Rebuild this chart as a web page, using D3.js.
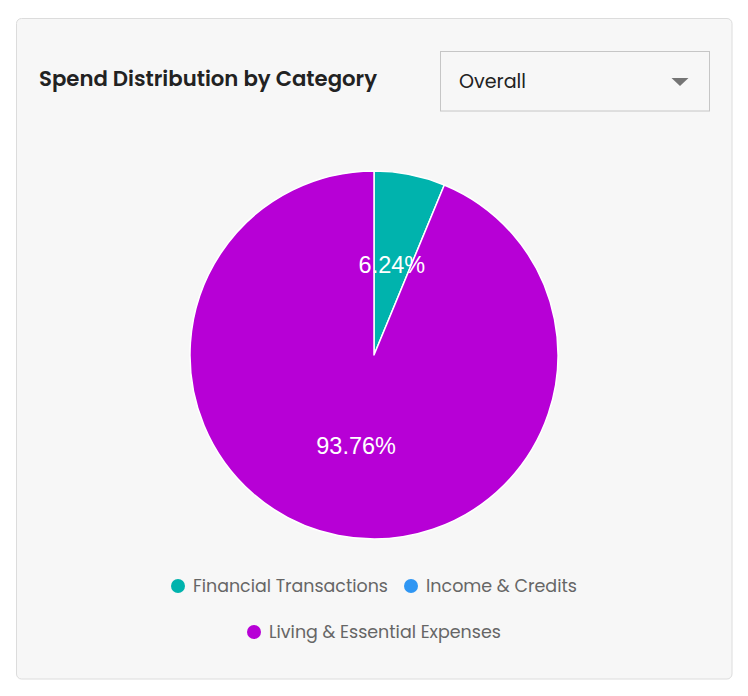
<!DOCTYPE html>
<html><head><meta charset="utf-8">
<script src="https://cdn.jsdelivr.net/npm/d3@7"></script>
<style>
html,body{margin:0;padding:0;background:#fff;}
svg{display:block;}
</style></head>
<body>
<svg id="c" width="748" height="696"></svg>
<script>
const categories = ["Financial Transactions", "Income & Credits", "Living & Essential Expenses"];
const values = [6.24, 0, 93.76];
const colors = ["#00b3ad", "#2f96f3", "#b700d6"];
const title = "Spend Distribution by Category";
const selectLabel = "Overall";

const svg = d3.select("#c");
const FONT = "Poppins, 'Open Sans', sans-serif";

// card
svg.append("rect").attr("x",16.5).attr("y",18.5).attr("width",715.5).attr("height",660.5)
  .attr("rx",5).attr("fill","#f7f7f7").attr("stroke","#dcdcdc").attr("stroke-width",1);

function fit(sel, w){
  const node = sel.node();
  const fs = parseFloat(sel.attr("font-size"));
  const cur = node.getComputedTextLength();
  sel.attr("font-size", (fs*w/cur).toFixed(2));
}

const t = svg.append("text").attr("x",39).attr("y",86).attr("font-family",FONT)
  .attr("font-weight",600).attr("font-size",19).attr("fill","#222").text(title);
fit(t, 338);

// dropdown
svg.append("rect").attr("x",440.5).attr("y",51.5).attr("width",269).attr("height",59.5)
  .attr("fill","#f7f7f7").attr("stroke","#c6c6c6");
const so = svg.append("text").attr("x",459).attr("y",88).attr("font-family",FONT)
  .attr("font-size",18).attr("fill","#222").text(selectLabel);
fit(so, 67);
svg.append("path").attr("d","M671.5,78L688.5,78L680,86Z").attr("fill","#757575");

// pie
const cx = 374, cy = 355, R = 184;
const pie = d3.pie().sort(null).value(d=>d.v);
const data = pie(categories.map((c,i)=>({c, v: values[i], col: colors[i]})));
const arc = d3.arc().innerRadius(0).outerRadius(R);
const labelArc = d3.arc().innerRadius(R/2).outerRadius(R/2);
const g = svg.append("g").attr("transform",`translate(${cx},${cy})`);
g.selectAll("path").data(data.filter(d=>d.data.v>0)).join("path")
  .attr("d",arc).attr("fill",d=>d.data.col).attr("stroke","#fff").attr("stroke-width",1.5)
  .attr("stroke-linejoin","round");
g.selectAll("text").data(data.filter(d=>d.data.v>0)).join("text")
  .attr("transform",d=>`translate(${labelArc.centroid(d)})`)
  .attr("text-anchor","middle").attr("dy","0.36em")
  .attr("font-family","'Liberation Sans', Arial, sans-serif").attr("font-size",23.5)
  .attr("fill","#fff").text(d=>d.data.v.toFixed(2)+"%");

// legend
const legendPos = [
  {cx:178, cy:586, tx:193, w:195},
  {cx:411, cy:586, tx:426, w:151},
  {cx:254, cy:632, tx:269, w:232}
];
categories.forEach((c,i)=>{
  const p = legendPos[i];
  svg.append("circle").attr("cx",p.cx).attr("cy",p.cy).attr("r",7).attr("fill",colors[i]);
  const lt = svg.append("text").attr("x",p.tx).attr("y",p.cy+6).attr("font-family",FONT)
    .attr("font-size",17).attr("fill","#666").text(c);
  fit(lt, p.w);
});
</script>
</body></html>
